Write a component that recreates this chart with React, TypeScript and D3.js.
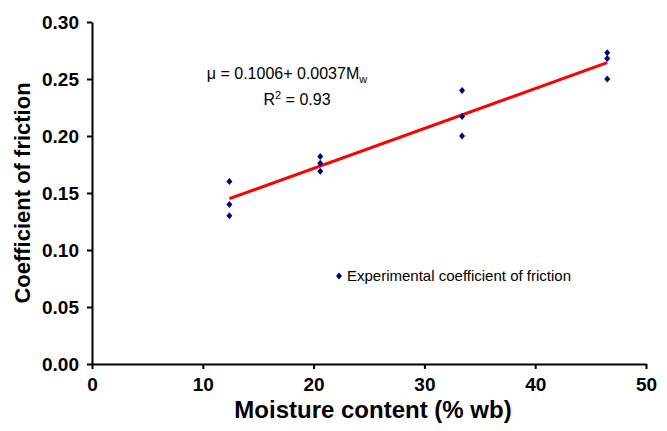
import React, { useEffect, useRef } from 'react'
import * as d3 from 'd3'

// moisture content (% wb) and measured coefficient of friction
const moisture = [12.4, 12.4, 12.4, 20.6, 20.6, 20.6, 33.4, 33.4, 33.4, 46.5, 46.5, 46.5]
const friction = [0.16, 0.14, 0.13, 0.182, 0.176, 0.169, 0.24, 0.217, 0.2, 0.273, 0.268, 0.25]
const xTicks = [0, 10, 20, 30, 40, 50]
const yTicks = [0, 0.05, 0.1, 0.15, 0.2, 0.25, 0.3]

const W = 667
const H = 431
const FONT = 'Liberation Sans, Arial, sans-serif'

function linearFit(xs: number[], ys: number[]) {
  const mx = d3.mean(xs) as number
  const my = d3.mean(ys) as number
  let num = 0
  let den = 0
  xs.forEach((x, i) => {
    num += (x - mx) * (ys[i] - my)
    den += (x - mx) * (x - mx)
  })
  const slope = num / den
  return { slope, intercept: my - slope * mx }
}

export default function App() {
  const ref = useRef<SVGSVGElement | null>(null)

  useEffect(() => {
    const svg = d3.select(ref.current)
    svg.selectAll('*').remove()

    const x = d3.scaleLinear().domain([0, 50]).range([92, 646])
    const y = d3.scaleLinear().domain([0, 0.3]).range([364, 22])

    // axes
    const xAxis = svg
      .append('g')
      .attr('transform', `translate(0,${y(0)})`)
      .call(d3.axisBottom(x).tickValues(xTicks).tickSize(5).tickSizeOuter(0).tickPadding(9).tickFormat(d3.format('d')))
    const yAxis = svg
      .append('g')
      .attr('transform', `translate(${x(0)},0)`)
      .call(d3.axisLeft(y).tickValues(yTicks).tickSize(5).tickSizeOuter(0).tickPadding(8).tickFormat(d3.format('.2f')))

    ;[xAxis, yAxis].forEach(a => {
      a.selectAll('path, line').attr('stroke', '#000').attr('stroke-width', 2)
      a.selectAll('text')
        .attr('fill', '#000')
        .attr('font-family', FONT)
        .attr('font-weight', 'bold')
        .attr('font-size', 19)
    })

    // axis titles
    svg.append('text')
      .attr('x', 373)
      .attr('y', 418)
      .attr('text-anchor', 'middle')
      .attr('font-family', FONT)
      .attr('font-weight', 'bold')
      .attr('font-size', 24)
      .text('Moisture content (% wb)')

    svg.append('text')
      .attr('transform', `translate(30,${(y(0) + y(0.3)) / 2}) rotate(-90)`)
      .attr('text-anchor', 'middle')
      .attr('font-family', FONT)
      .attr('font-weight', 'bold')
      .attr('font-size', 22)
      .text('Coefficient of friction')

    // trend line
    const fit = linearFit(moisture, friction)
    const x0 = d3.min(moisture) as number
    const x1 = d3.max(moisture) as number
    const line = d3.line<number>().x(d => x(d)).y(d => y(fit.intercept + fit.slope * d))
    svg.append('path')
      .attr('d', line([x0, x1]))
      .attr('fill', 'none')
      .attr('stroke', '#ff0000')
      .attr('stroke-width', 3)

    // points
    const diamond = 'M0,-3.5L3,0L0,3.5L-3,0Z'
    svg.append('g')
      .selectAll('path')
      .data(moisture)
      .enter()
      .append('path')
      .attr('d', diamond)
      .attr('transform', (d, i) => `translate(${x(d)},${y(friction[i])})`)
      .attr('fill', '#000080')

    // equation
    const eq = svg.append('text')
      .attr('x', 287)
      .attr('y', 79)
      .attr('text-anchor', 'middle')
      .attr('font-family', FONT)
      .attr('font-size', 16)
    eq.append('tspan').text('μ = 0.1006+ 0.0037M')
    eq.append('tspan').attr('font-size', 11).attr('dy', 4).text('w')

    const r2 = svg.append('text')
      .attr('x', 297)
      .attr('y', 105)
      .attr('text-anchor', 'middle')
      .attr('font-family', FONT)
      .attr('font-size', 16)
    r2.append('tspan').text('R')
    r2.append('tspan').attr('font-size', 11).attr('dy', -6).text('2')
    r2.append('tspan').attr('dy', 6).text(' = 0.93')

    // legend
    svg.append('path')
      .attr('d', diamond)
      .attr('transform', 'translate(339,276)')
      .attr('fill', '#000080')
    svg.append('text')
      .attr('x', 347)
      .attr('y', 281)
      .attr('font-family', FONT)
      .attr('font-size', 15)
      .text('Experimental coefficient of friction')
  }, [])

  return (
    <svg
      ref={ref}
      width={W}
      height={H}
      style={{ position: 'absolute', left: 0, top: 0, background: '#fff' }}
    />
  )
}
